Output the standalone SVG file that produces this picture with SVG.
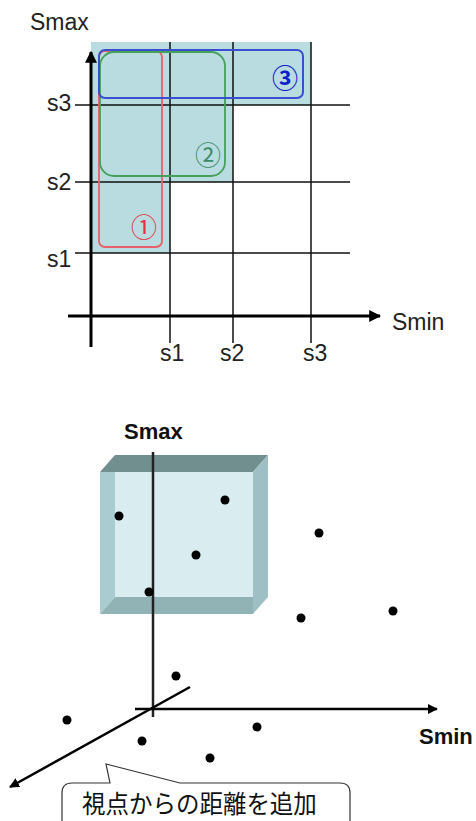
<svg xmlns="http://www.w3.org/2000/svg" width="476" height="821" viewBox="0 0 476 821">
<style>
.lbl{font-family:"Liberation Sans",Arial,sans-serif;font-size:23px;fill:#222}
.blbl{font-family:"Liberation Sans",Arial,sans-serif;font-size:22px;font-weight:bold;fill:#111}
.grid{stroke:#111;stroke-width:1.5;fill:none}
.axis{stroke:#000;stroke-width:3;fill:none}
.axis2{stroke:#000;stroke-width:2.5;fill:none}
.circ{font-family:"Noto Sans CJK JP",sans-serif;font-size:26px;text-anchor:middle}
.dot{fill:#000}
</style>
<defs>
<marker id="ah" viewBox="0 0 10 10" refX="9" refY="5" markerWidth="4" markerHeight="4" orient="auto" markerUnits="strokeWidth">
<path d="M0,0 L10,5 L0,10 z" fill="#000"/>
</marker>
</defs>

<!-- ===== Top chart ===== -->
<g id="shade">
<path d="M91,42 H311 V105 H233 V182 H170 V253 H91 Z" fill="#b8dcdf"/>
</g>
<g id="grid">
<line class="grid" x1="170" y1="42" x2="170" y2="343"/>
<line class="grid" x1="233" y1="42" x2="233" y2="343"/>
<line class="grid" x1="311" y1="42" x2="311" y2="343"/>
<line class="grid" x1="75" y1="105" x2="350" y2="105"/>
<line class="grid" x1="75" y1="182" x2="350" y2="182"/>
<line class="grid" x1="75" y1="253" x2="350" y2="253"/>
</g>
<g id="region1">
<rect x="99" y="51" width="63" height="196" rx="6" fill="none" stroke="#e8606a" stroke-width="1.8"/>
<text class="circ" x="144" y="237" fill="#e83040">①</text>
</g>
<g id="region2">
<rect x="100" y="52" width="125" height="124" rx="14" fill="none" stroke="#45a05a" stroke-width="1.8"/>
<text class="circ" x="208" y="165" fill="#3a8a68">②</text>
</g>
<g id="region3">
<rect x="99" y="50" width="204" height="48" rx="6" fill="none" stroke="#3a4fd0" stroke-width="2"/>
<text class="circ" x="285" y="88" fill="#1020c8" font-weight="bold">③</text>
</g>
<g id="axes-top">
<line class="axis" x1="91" y1="347" x2="91" y2="52" marker-end="url(#ah)"/>
<line class="axis" x1="68" y1="316" x2="380" y2="316" marker-end="url(#ah)"/>
</g>
<g id="labels-top">
<text class="lbl" x="30" y="30" fill="#333">Smax</text>
<text class="lbl" x="392" y="330">Smin</text>
<text class="lbl" x="47" y="111">s3</text>
<text class="lbl" x="47" y="190">s2</text>
<text class="lbl" x="47" y="267">s1</text>
<text class="lbl" x="160" y="361">s1</text>
<text class="lbl" x="220" y="361">s2</text>
<text class="lbl" x="303" y="361">s3</text>
</g>

<!-- ===== Bottom chart ===== -->
<g id="box">
<rect x="115" y="472" width="138" height="125" fill="#d9edf1"/>
<polygon points="100,472 115,472 115,597 100,614" fill="#a9ccd1"/>
<polygon points="100,614 115,597 253,597 253,614" fill="#92b3b6"/>
<polygon points="100,472 115,455 268,455 253,472" fill="#728f90"/>
<polygon points="253,472 268,455 268,597 253,614" fill="#9ec0c4"/>
</g>
<g id="axes-bottom">
<line x1="153" y1="452" x2="153" y2="717" stroke="#222" stroke-width="2.5"/>
<line class="axis2" x1="135" y1="709" x2="437" y2="709" marker-end="url(#ah)"/>
<line class="axis2" x1="190" y1="687" x2="10" y2="787" marker-end="url(#ah)"/>
</g>
<g id="dots">
<circle class="dot" cx="119" cy="516" r="4.5"/>
<circle class="dot" cx="225" cy="500" r="4.5"/>
<circle class="dot" cx="196" cy="555" r="4.5"/>
<circle class="dot" cx="149" cy="592" r="4.5"/>
<circle class="dot" cx="319" cy="533" r="4.5"/>
<circle class="dot" cx="301" cy="618" r="4.5"/>
<circle class="dot" cx="393" cy="611" r="4.5"/>
<circle class="dot" cx="176" cy="676" r="4.5"/>
<circle class="dot" cx="67" cy="720" r="4.5"/>
<circle class="dot" cx="257" cy="727" r="4.5"/>
<circle class="dot" cx="142" cy="741" r="4.5"/>
<circle class="dot" cx="210" cy="758" r="4.5"/>
</g>
<g id="labels-bottom">
<text class="blbl" x="124" y="439">Smax</text>
<text class="blbl" x="419" y="744">Smin</text>
</g>
<g id="callout">
<path d="M110,783 L106,764 L180,783 H340 Q350,783 350,793 V830 H62 V793 Q62,783 72,783 Z" fill="#fff" stroke="#333" stroke-width="1.2"/>
<text transform="translate(82,813) scale(1,1.05)" font-family="'Noto Sans CJK JP',sans-serif" font-size="23.5" fill="#111">視点からの距離を追加</text>
</g>
</svg>
